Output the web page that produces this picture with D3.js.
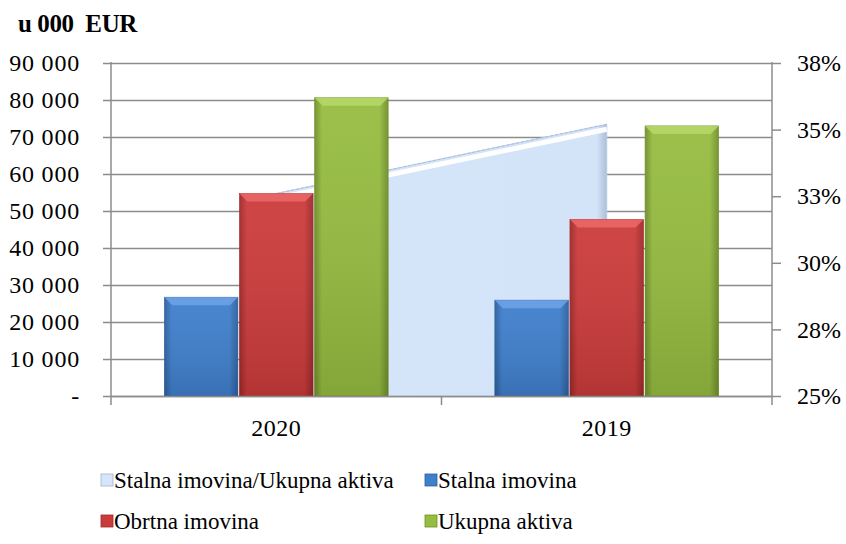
<!DOCTYPE html>
<html>
<head>
<meta charset="utf-8">
<script src="https://cdn.jsdelivr.net/npm/d3@7"></script>
<style>
  body { margin: 0; background: #fff; }
</style>
</head>
<body>
<svg id="chart" width="846" height="544"></svg>
<script>
// data
let years = ['2020', '2019'];
let stalna = [26700, 25900];
let obrtna = [54700, 47700];
let ukupna = [80600, 73000];
let omjer = [0.326, 0.352];   // Stalna imovina / Ukupna aktiva
let leftTicks = [0, 10000, 20000, 30000, 40000, 50000, 60000, 70000, 80000, 90000];
let rightTicks = [0.25, 0.275, 0.30, 0.325, 0.35, 0.375];

let series = [
  { name: 'Stalna imovina', values: stalna, color: '#3f7fcc', dark: '#2c5f9e', light: '#6fa3e6' },
  { name: 'Obrtna imovina', values: obrtna, color: '#cc3b3b', dark: '#9e2828', light: '#ec6a6a' },
  { name: 'Ukupna aktiva', values: ukupna, color: '#96bc40', dark: '#6f8f2a', light: '#b6d86a' }
];

let serif = '"Liberation Serif", "DejaVu Serif", serif';
let svg = d3.select('#chart');
let plotL = 111, plotR = 772, plotT = 63, plotB = 396;

let x = d3.scaleBand().domain(years).range([plotL, plotR]);
let xBar = d3.scaleBand().domain(series.map(s => s.name)).range([0, x.bandwidth()]).paddingOuter(0.71).paddingInner(0.02);
let y = d3.scaleLinear().domain([0, 90000]).range([plotB, plotT]);
let y2 = d3.scaleLinear().domain([0.25, 0.375]).range([plotB, plotT]);

let defs = svg.append('defs');
series.forEach((s, i) => {
  let g = defs.append('linearGradient').attr('id', 'g' + i).attr('x1', 0).attr('x2', 1).attr('y1', 0).attr('y2', 0);
  g.append('stop').attr('offset', '0%').attr('stop-color', s.dark);
  g.append('stop').attr('offset', '10%').attr('stop-color', s.color);
  g.append('stop').attr('offset', '88%').attr('stop-color', s.color);
  g.append('stop').attr('offset', '100%').attr('stop-color', s.dark);
  let v = defs.append('linearGradient').attr('id', 'v' + i).attr('x1', 0).attr('x2', 0).attr('y1', 0).attr('y2', 1);
  v.append('stop').attr('offset', '0%').attr('stop-color', '#fff').attr('stop-opacity', 0.05);
  v.append('stop').attr('offset', '100%').attr('stop-color', '#000').attr('stop-opacity', 0.12);
});
let ag = defs.append('linearGradient').attr('id', 'areaG').attr('x1', 0).attr('x2', 1).attr('y1', 0).attr('y2', 0);
ag.append('stop').attr('offset', '0%').attr('stop-color', '#d6e6fa');
ag.append('stop').attr('offset', '97%').attr('stop-color', '#d3e3f8');
ag.append('stop').attr('offset', '100%').attr('stop-color', '#aabfd8');

// gridlines
svg.append('g')
  .attr('transform', `translate(${plotL},0)`)
  .call(d3.axisLeft(y).tickValues(leftTicks).tickSize(-(plotR - plotL)).tickFormat(''))
  .call(g => g.select('.domain').remove())
  .call(g => g.selectAll('line').attr('stroke', '#8c8c8c').attr('stroke-width', 1.5).attr('x1', -8));

// area series
let area = d3.area()
  .x((d, i) => x(years[i]) + x.bandwidth() / 2)
  .y0(plotB)
  .y1(d => y2(d));
svg.append('path')
  .datum(omjer)
  .attr('d', area)
  .attr('fill', 'url(#areaG)')
  .attr('stroke', '#b9cde6')
  .attr('stroke-width', 1);
let topLine = d3.line()
  .x((d, i) => x(years[i]) + x.bandwidth() / 2)
  .y(d => y2(d));
svg.append('path')
  .datum(omjer)
  .attr('d', topLine)
  .attr('fill', 'none')
  .attr('stroke', '#ffffff')
  .attr('stroke-width', 5)
  .attr('transform', 'translate(0,5)');
svg.append('path')
  .datum(omjer)
  .attr('d', topLine)
  .attr('fill', 'none')
  .attr('stroke', '#a9c0dc')
  .attr('stroke-dasharray', '3,2')
  .attr('stroke-width', 1);

// bars
series.forEach((s, i) => {
  let g = svg.append('g');
  let bx = (d, j) => x(years[j]) + xBar(s.name);
  g.selectAll('rect.bar')
    .data(s.values)
    .enter()
    .append('rect')
    .attr('class', 'bar')
    .attr('x', bx)
    .attr('y', d => y(d))
    .attr('width', xBar.bandwidth())
    .attr('height', d => plotB - y(d))
    .attr('fill', 'url(#g' + i + ')')
    .attr('stroke', s.dark)
    .attr('stroke-width', 0.6);
  g.selectAll('rect.shade')
    .data(s.values)
    .enter()
    .append('rect')
    .attr('class', 'shade')
    .attr('x', bx)
    .attr('y', d => y(d))
    .attr('width', xBar.bandwidth())
    .attr('height', d => plotB - y(d))
    .attr('fill', 'url(#v' + i + ')');
  // bevel on top
  g.selectAll('path.bevel')
    .data(s.values)
    .enter()
    .append('path')
    .attr('class', 'bevel')
    .attr('d', (d, j) => {
      let x0 = bx(d, j), x1 = x0 + xBar.bandwidth(), yt = y(d);
      return `M${x0},${yt}L${x1},${yt}L${x1 - 8},${yt + 8}L${x0 + 8},${yt + 8}Z`;
    })
    .attr('fill', s.light)
    .attr('opacity', 0.85);
});

// axes
let yAxis = svg.append('g')
  .attr('transform', `translate(${plotL},0)`)
  .call(d3.axisLeft(y).tickValues(leftTicks).tickSize(0).tickPadding(31)
    .tickFormat(d => d === 0 ? '-' : d3.format(',')(d).replace(/,/g, ' ')));
yAxis.select('.domain').remove();
yAxis.selectAll('text').attr('fill', '#000').style('font-size', '24px').style('letter-spacing', '0.8px').style('font-family', serif);
svg.append('line').attr('x1', plotL).attr('x2', plotL).attr('y1', plotT - 1).attr('y2', plotB + 9)
  .attr('stroke', '#8c8c8c').attr('stroke-width', 1.5);

let y2Axis = svg.append('g')
  .attr('transform', `translate(${plotR},0)`)
  .call(d3.axisRight(y2).tickValues(rightTicks).tickSize(9).tickPadding(16)
    .tickFormat(d => Math.round(d * 100) + '%'));
y2Axis.select('.domain').attr('stroke', '#8c8c8c').attr('stroke-width', 1.5).attr('d', `M0,${plotT - 1}V${plotB + 9}`);
y2Axis.selectAll('line').attr('stroke', '#8c8c8c').attr('stroke-width', 1.5);
y2Axis.selectAll('text').attr('fill', '#000').style('font-size', '24px').style('font-family', serif);

let xAxis = svg.append('g')
  .attr('transform', `translate(0,${plotB})`)
  .call(d3.axisBottom(x).tickSize(0).tickPadding(23));
xAxis.select('.domain').attr('stroke', '#8c8c8c').attr('stroke-width', 1.5);
xAxis.selectAll('text').attr('fill', '#000').style('font-size', '24px').style('letter-spacing', '0.5px').style('font-family', serif);
svg.append('line').attr('x1', x('2019')).attr('x2', x('2019')).attr('y1', plotB).attr('y2', plotB + 9)
  .attr('stroke', '#8c8c8c').attr('stroke-width', 1.5);

// unit title
svg.append('text').attr('x', 18).attr('y', 32)
  .style('font-family', serif)
  .style('font-size', '25px').style('font-weight', 'bold').style('letter-spacing', '-0.4px')
  .style('white-space', 'pre')
  .attr('xml:space', 'preserve')
  .text('u 000  EUR');

// legend
let legendItems = [
  { name: 'Stalna imovina/Ukupna aktiva', color: '#d6e6fa', dark: '#9fb3cc', x: 101, y: 488 },
  { name: 'Stalna imovina', color: '#3f7fcc', dark: '#2c5f9e', x: 425, y: 488 },
  { name: 'Obrtna imovina', color: '#cc3b3b', dark: '#9e2828', x: 101, y: 529 },
  { name: 'Ukupna aktiva', color: '#96bc40', dark: '#6f8f2a', x: 425, y: 529 }
];
let lg = svg.append('g').selectAll('g').data(legendItems).enter().append('g')
  .attr('transform', d => `translate(${d.x},${d.y})`);
lg.append('rect').attr('x', 0).attr('y', -14).attr('width', 12).attr('height', 12)
  .attr('fill', d => d.color).attr('stroke', d => d.dark).attr('stroke-width', 0.8);
lg.append('text').attr('x', 13).attr('y', 0)
  .style('font-family', serif)
  .style('font-size', '23px')
  .text(d => d.name);
</script>
</body>
</html>
